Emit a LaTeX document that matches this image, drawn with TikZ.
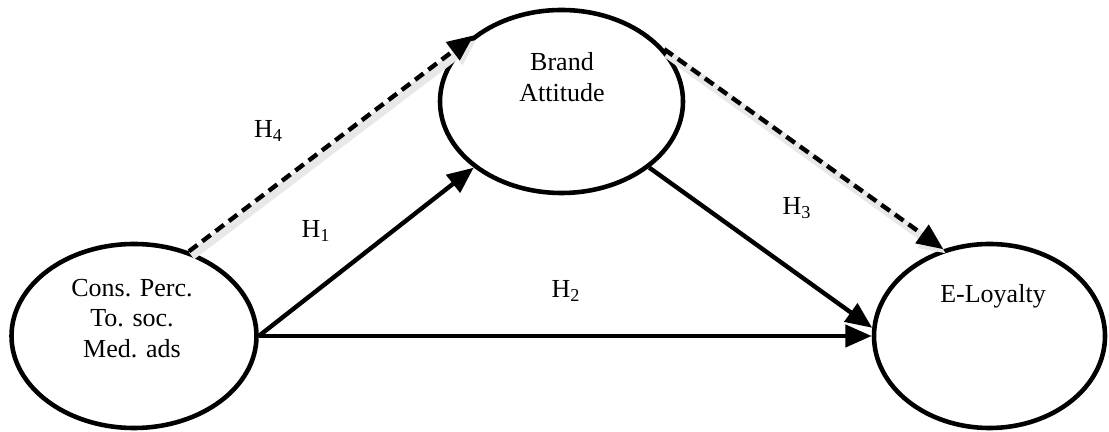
\documentclass[tikz,border=0pt]{standalone}
\usepackage{fontspec}
\setmainfont{Liberation Serif}
\usetikzlibrary{shapes.geometric, arrows.meta}

\begin{document}
\begin{tikzpicture}[
  latent/.style={draw, ellipse, line width=2.6pt, inner sep=0pt},
  rotulo/.style={font=\fontsize{14.8}{17.5}\selectfont, align=center},
  hip/.style={line width=2.5pt, -{Triangle[length=15pt,width=12.5pt]}},
  hipdash/.style={hip, dash pattern=on 6pt off 3.5pt,
    preaction={draw=black!9, line width=5pt, solid, transform canvas={shift={(1.5pt,-2.5pt)}}}}
]
\useasboundingbox (0,0) rectangle (22.18,8.64);

% Construtos
\node[latent, minimum width=4.9cm, minimum height=3.68cm] (cpsm) at (2.68,1.92) {};
\node[latent, minimum width=4.86cm, minimum height=3.66cm] (ba) at (11.23,6.61) {};
\node[latent, minimum width=4.62cm, minimum height=3.68cm] (el) at (19.79,1.92) {};

% Textos
\node[rotulo] (cpsmT) at (2.64,2.27) {Cons. Perc.\\To. soc.\\Med. ads};
\node[rotulo] (baT) at (11.24,7.10) {Brand\\Attitude};
\node[rotulo] (elT) at (19.86,2.72) {E-Loyalty};

% Hipoteses
\draw[hipdash] (cpsm.57.9) -- (ba.143.9);
\draw[hip] (cpsm.east) -- (ba.217.1);
\draw[hip] (cpsm.east) -- (el.west);
\draw[hip] (ba.-37.5) -- (el.176);
\draw[hipdash] (ba.27.8) -- (el.118.4);

\node[rotulo, anchor=base] (h4) at (5.37,5.88) {H\textsubscript{4}};
\node[rotulo, anchor=base] (h1) at (6.32,3.88) {H\textsubscript{1}};
\node[rotulo, anchor=base] (h2) at (11.32,2.68) {H\textsubscript{2}};
\node[rotulo, anchor=base] (h3) at (15.94,4.34) {H\textsubscript{3}};
\end{tikzpicture}
\end{document}
